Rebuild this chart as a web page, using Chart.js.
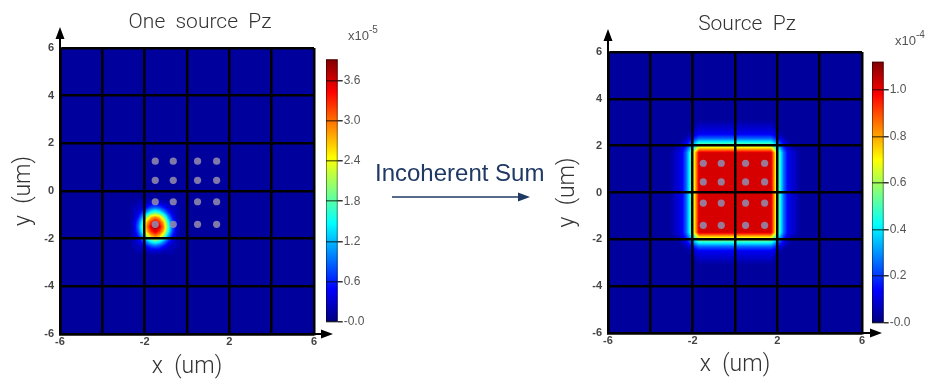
<!DOCTYPE html>
<html>
<head>
<meta charset="utf-8">
<script src="https://cdn.jsdelivr.net/npm/chart.js@4.4.1/dist/chart.umd.min.js"></script>
<style>
  html, body { margin: 0; padding: 0; background: #fff; }
  #stage { position: relative; width: 935px; height: 385px; overflow: hidden; }
  #stage canvas { position: absolute; top: 0; }
  .exp { position: absolute; font: 13px 'Liberation Sans', Arial, sans-serif; color: #555; }
  .exp sup { font-size: 10px; position: relative; top: -2px; }
  #sumLabel { position: absolute; left: 375px; top: 159px; font: 24px/28px 'Liberation Sans', Arial, sans-serif; color: #1f3864; white-space: nowrap; }
  #sumArrow { position: absolute; left: 390px; top: 190px; }
</style>
</head>
<body>
<div id="stage">
  <canvas id="oneMap" width="400" height="385" style="left:0px"></canvas>
  <canvas id="oneBar" width="70" height="340" style="left:326px"></canvas>
  <canvas id="sumMap" width="398" height="385" style="left:548px"></canvas>
  <canvas id="sumBar" width="63" height="340" style="left:872px"></canvas>
  <div class="exp" style="left:348px; top:26px">x10<sup>-5</sup></div>
  <div class="exp" style="left:895px; top:31px">x10<sup>-4</sup></div>
  <div id="sumLabel">Incoherent Sum</div>
  <svg id="sumArrow" width="145" height="14">
    <line x1="2" y1="7" x2="130" y2="7" stroke="#1f3864" stroke-width="1.6"/>
    <polygon points="140,7 128,2.5 128,11.5" fill="#1f3864"/>
  </svg>
</div>
<script>
// ---- data ----
const xTicks = [-6, -4, -2, 0, 2, 4, 6];     // grid every 2 um
const xTickLabels = [-6, -2, 2, 6];          // only these are labelled on x
const yTicks = [-6, -4, -2, 0, 2, 4, 6];
const fieldRange = [-6, 6];                  // simulation window (um), both axes

// the 4x4 grey source dots (um)
const sourceX = [-1.5, -0.65, 0.5, 1.4];
const sourceY = [1.25, 0.45, -0.45, -1.4];

// colour bars
const oneSourceMax = 3.92;                   // x1e-5
const oneSourceTicks = [0, 0.6, 1.2, 1.8, 2.4, 3.0, 3.6];
const sumMax = 1.12;                         // x1e-4
const sumTicks = [0, 0.2, 0.4, 0.6, 0.8, 1.0];

// Pz maps on a 0.2 um grid (60 x 60), first row is y = +6 um.
// each char is a level 0..Z (0..35) as a fraction of the colour bar top
const LEVELS = '0123456789ABCDEFGHIJKLMNOPQRSTUVWXYZ';
const B = '1111111111 1111111111 1111111111 1111111111 1111111111 1111111111';

const oneSourceRows = [
  B, B, B, B, B, B, B, B, B, B,
  B, B, B, B, B, B, B, B, B, B,
  B, B, B, B, B, B, B, B, B, B,
  B, B,
  '1111111111 1111111122 2333222111 1111111111 1111111111 1111111111',
  '1111111111 1111111223 5787532211 1111111111 1111111111 1111111111',
  '1111111111 1111111236 AEGEA63211 1111111111 1111111111 1111111111',
  '1111111111 111111125A IOQOIA5211 1111111111 1111111111 1111111111',
  '1111111111 111111137E OTWTOE7311 1111111111 1111111111 1111111111',
  '1111111111 111111138G QWYWQG8311 1111111111 1111111111 1111111111',
  '1111111111 111111137E OTWTOE7311 1111111111 1111111111 1111111111',
  '1111111111 111111125A IOQOIA5211 1111111111 1111111111 1111111111',
  '1111111111 1111111236 AEGEA63211 1111111111 1111111111 1111111111',
  '1111111111 1111111223 5787532211 1111111111 1111111111 1111111111',
  '1111111111 1111111122 2333222111 1111111111 1111111111 1111111111',
  B, B, B, B, B, B, B, B, B, B,
  B, B, B, B, B, B, B
];

const sumRows = [
  B, B, B, B, B, B, B, B, B, B,
  B, B, B, B, B,
  '1111111111 1111111111 1222222222 2222222221 1111111111 1111111111',
  '1111111111 1111111111 2333333333 3333333332 1111111111 1111111111',
  '1111111111 1111111112 3444444444 4444444443 2111111111 1111111111',
  '1111111111 1111111124 6888888888 8888888886 4211111111 1111111111',
  '1111111111 1111111247 BFFFFFFFFF FFFFFFFFFB 7421111111 1111111111',
  '1111111111 111111236B GNNNNNNNNN NNNNNNNNNG B632111111 1111111111',
  '1111111111 111112348F NWWWWWWWWW WWWWWWWWWN F843211111 1111111111',
  '1111111111 111112348F NWWWWWWWWW WWWWWWWWWN F843211111 1111111111',
  '1111111111 111112348F NWWWWWWWWW WWWWWWWWWN F843211111 1111111111',
  '1111111111 111112348F NWWWWWWWWW WWWWWWWWWN F843211111 1111111111',
  '1111111111 111112348F NWWWWWWWWW WWWWWWWWWN F843211111 1111111111',
  '1111111111 111112348F NWWWWWWWWW WWWWWWWWWN F843211111 1111111111',
  '1111111111 111112348F NWWWWWWWWW WWWWWWWWWN F843211111 1111111111',
  '1111111111 111112348F NWWWWWWWWW WWWWWWWWWN F843211111 1111111111',
  '1111111111 111112348F NWWWWWWWWW WWWWWWWWWN F843211111 1111111111',
  '1111111111 111112348F NWWWWWWWWW WWWWWWWWWN F843211111 1111111111',
  '1111111111 111112348F NWWWWWWWWW WWWWWWWWWN F843211111 1111111111',
  '1111111111 111112348F NWWWWWWWWW WWWWWWWWWN F843211111 1111111111',
  '1111111111 111112348F NWWWWWWWWW WWWWWWWWWN F843211111 1111111111',
  '1111111111 111112348F NWWWWWWWWW WWWWWWWWWN F843211111 1111111111',
  '1111111111 111112348F NWWWWWWWWW WWWWWWWWWN F843211111 1111111111',
  '1111111111 111112348F NWWWWWWWWW WWWWWWWWWN F843211111 1111111111',
  '1111111111 111112348F NWWWWWWWWW WWWWWWWWWN F843211111 1111111111',
  '1111111111 111112348F NWWWWWWWWW WWWWWWWWWN F843211111 1111111111',
  '1111111111 111111236B GNNNNNNNNN NNNNNNNNNG B632111111 1111111111',
  '1111111111 1111111247 BFFFFFFFFF FFFFFFFFFB 7421111111 1111111111',
  '1111111111 1111111124 6888888888 8888888886 4211111111 1111111111',
  '1111111111 1111111112 3444444444 4444444443 2111111111 1111111111',
  '1111111111 1111111111 2333333333 3333333332 1111111111 1111111111',
  '1111111111 1111111111 1222222222 2222222221 1111111111 1111111111',
  B, B, B, B, B, B, B, B, B, B,
  B, B, B, B, B
];

// ---- helpers ----
function jet(t) {
  const c = v => Math.round(255 * Math.max(0, Math.min(1, v)));
  return [c(1.5 - Math.abs(4 * t - 3)), c(1.5 - Math.abs(4 * t - 2)), c(1.5 - Math.abs(4 * t - 1))];
}

function toGrid(rows) {
  return rows.map(r => Array.from(r.replace(/ /g, ''), ch => LEVELS.indexOf(ch) / (LEVELS.length - 1)));
}

function sampleGrid(g, gx, gy) {
  const m = g.length, n = g[0].length;
  gx = Math.max(0, Math.min(n - 1, gx));
  gy = Math.max(0, Math.min(m - 1, gy));
  const i0 = Math.floor(gx), j0 = Math.floor(gy);
  const i1 = Math.min(n - 1, i0 + 1), j1 = Math.min(m - 1, j0 + 1);
  const fx = gx - i0, fy = gy - j0;
  const a = (g[j0][i0] ?? 0.03) * (1 - fx) + (g[j0][i1] ?? 0.03) * fx;
  const b = (g[j1][i0] ?? 0.03) * (1 - fx) + (g[j1][i1] ?? 0.03) * fx;
  return a * (1 - fy) + b * fy;
}

// field drawn under the grid lines, positioned through the chart scales
const heatmapPlugin = {
  id: 'heatmap',
  beforeDraw(chart, args, opts) {
    const { ctx, chartArea: a, scales: { x, y } } = chart;
    const g = opts.grid;
    const n = g[0].length;
    const [lo, hi] = fieldRange;
    const step = (hi - lo) / n;
    const w = Math.round(a.right - a.left), h = Math.round(a.bottom - a.top);
    const off = document.createElement('canvas');
    off.width = w; off.height = h;
    const octx = off.getContext('2d');
    const img = octx.createImageData(w, h);
    for (let py = 0; py < h; py++) {
      const gy = (hi - y.getValueForPixel(a.top + py + 0.5)) / step - 0.5;
      for (let px = 0; px < w; px++) {
        const gx = (x.getValueForPixel(a.left + px + 0.5) - lo) / step - 0.5;
        const [r, gg, b] = jet(sampleGrid(g, gx, gy));
        const k = (py * w + px) * 4;
        img.data[k] = r; img.data[k + 1] = gg; img.data[k + 2] = b; img.data[k + 3] = 255;
      }
    }
    octx.putImageData(img, 0, 0);
    ctx.drawImage(off, a.left, a.top, w, h);
  }
};

const titlePlugin = {
  id: 'mapTitle',
  afterDraw(chart, args, o) {
    const c = chart.ctx;
    c.save();
    c.font = "300 21px Roboto, 'DejaVu Sans', sans-serif";
    c.fillStyle = '#333';
    c.textAlign = 'center';
    c.textBaseline = 'middle';
    c.fillText(o.text, chart.width / 2, o.y);
    c.restore();
  }
};

// axis arrows at the top of y and the right end of x
const arrowPlugin = {
  id: 'axisArrows',
  afterDraw(chart, args, o) {
    const { ctx, chartArea: a } = chart;
    ctx.save();
    ctx.strokeStyle = '#000';
    ctx.fillStyle = '#000';
    ctx.lineWidth = 2;
    ctx.beginPath();
    ctx.moveTo(a.left, a.top); ctx.lineTo(a.left, a.top - o.up + 8);
    ctx.moveTo(a.right, a.bottom); ctx.lineTo(a.right + o.right - 8, a.bottom);
    ctx.stroke();
    ctx.beginPath();
    ctx.moveTo(a.left, a.top - o.up);
    ctx.lineTo(a.left - 4.5, a.top - o.up + 12);
    ctx.lineTo(a.left + 4.5, a.top - o.up + 12);
    ctx.closePath();
    ctx.moveTo(a.right + o.right, a.bottom);
    ctx.lineTo(a.right + o.right - 12, a.bottom - 4.5);
    ctx.lineTo(a.right + o.right - 12, a.bottom + 4.5);
    ctx.closePath();
    ctx.fill();
    ctx.restore();
  }
};

const colorbarPlugin = {
  id: 'colorbar',
  beforeDraw(chart) {
    const { ctx, chartArea: a, scales: { y } } = chart;
    const grad = ctx.createLinearGradient(0, y.getPixelForValue(y.min), 0, y.getPixelForValue(y.max));
    for (let k = 0; k <= 16; k++) {
      const [r, g, b] = jet(k / 16);
      grad.addColorStop(k / 16, `rgb(${r},${g},${b})`);
    }
    ctx.fillStyle = grad;
    ctx.fillRect(a.left, a.top, a.right - a.left, a.bottom - a.top);
  },
  afterDraw(chart) {
    const { ctx, chartArea: a } = chart;
    ctx.save();
    ctx.strokeStyle = 'rgba(0,0,0,0.45)';
    ctx.lineWidth = 1;
    ctx.strokeRect(a.left + 0.5, a.top + 0.5, a.right - a.left - 1, a.bottom - a.top - 1);
    ctx.restore();
  }
};

const tickFont = { family: "'Liberation Sans', Arial, sans-serif", size: 11, weight: 'bold' };
const axisFont = { family: "Roboto, 'DejaVu Sans', sans-serif", size: 23, weight: '300' };
const barFont = { family: "'Liberation Sans', Arial, sans-serif", size: 12 };

function mapChart(id, rows, o) {
  const dots = [];
  sourceY.forEach(y => sourceX.forEach(x => dots.push({ x, y })));
  return new Chart(document.getElementById(id), {
    type: 'scatter',
    data: {
      datasets: [{
        data: dots,
        pointRadius: 3.6,
        backgroundColor: 'rgba(145,138,172,0.88)',
        borderWidth: 0
      }]
    },
    options: {
      responsive: false,
      animation: false,
      events: [],
      layout: { padding: { top: o.top, right: o.right, left: 0, bottom: 0 } },
      plugins: {
        legend: { display: false },
        tooltip: { enabled: false },
        heatmap: { grid: toGrid(rows) },
        mapTitle: { text: o.title, y: o.titleY },
        axisArrows: { up: o.arrowUp, right: o.arrowRight }
      },
      scales: {
        x: {
          type: 'linear', min: fieldRange[0], max: fieldRange[1],
          afterFit: s => { s.height = o.xh; },
          afterBuildTicks: s => { s.ticks = xTicks.map(v => ({ value: v })); },
          ticks: {
            callback: v => xTickLabels.includes(v) ? String(v) : '',
            font: tickFont, color: '#444', padding: 1, maxRotation: 0, autoSkip: false
          },
          grid: { color: '#000', lineWidth: 2.5, drawTicks: false },
          border: { color: '#000', width: 2.5 },
          title: { display: true, text: 'x  (um)', font: axisFont, color: '#333', padding: { top: 0, bottom: o.xtPad } }
        },
        y: {
          type: 'linear', position: 'left', min: fieldRange[0], max: fieldRange[1],
          afterFit: s => { s.width = 60; },
          afterBuildTicks: s => { s.ticks = yTicks.map(v => ({ value: v })); },
          ticks: { font: tickFont, color: '#444', padding: 6, autoSkip: false },
          grid: { color: '#000', lineWidth: 2.5, drawTicks: false },
          border: { color: '#000', width: 2.5 },
          title: { display: true, text: 'y  (um)', font: axisFont, color: '#333', padding: { top: o.ytPad, bottom: 0 } }
        }
      }
    },
    plugins: [heatmapPlugin, titlePlugin, arrowPlugin]
  });
}

function barChart(id, max, ticks, o) {
  return new Chart(document.getElementById(id), {
    type: 'scatter',
    data: { datasets: [] },
    options: {
      responsive: false,
      animation: false,
      events: [],
      layout: { padding: { top: o.top, bottom: o.bottom, left: 0, right: 0 } },
      plugins: { legend: { display: false }, tooltip: { enabled: false } },
      scales: {
        x: { display: false, min: 0, max: 1 },
        y: {
          position: 'right', min: 0, max: max,
          afterFit: s => { s.width = o.w; },
          afterBuildTicks: s => { s.ticks = ticks.map(v => ({ value: v })); },
          ticks: { callback: v => v === 0 ? '-0.0' : v.toFixed(1), font: barFont, color: '#555', padding: 1 },
          grid: { color: 'rgba(0,0,0,0.55)', lineWidth: 1.5, tickLength: 5, tickColor: '#333' },
          border: { display: false }
        }
      }
    },
    plugins: [colorbarPlugin]
  });
}

mapChart('oneMap', oneSourceRows, {
  title: 'One  source  Pz', titleY: 23, top: 48, right: 86, xh: 51, xtPad: 4, ytPad: 10, arrowUp: 21, arrowRight: 19
});
mapChart('sumMap', sumRows, {
  title: 'Source  Pz', titleY: 25, top: 52, right: 84, xh: 52, xtPad: 6, ytPad: 6, arrowUp: 23, arrowRight: 20
});
barChart('oneBar', oneSourceMax, oneSourceTicks, { top: 59.3, bottom: 18.3, w: 58.3 });
barChart('sumBar', sumMax, sumTicks, { top: 61.7, bottom: 17.3, w: 51.3 });
</script>
</body>
</html>
